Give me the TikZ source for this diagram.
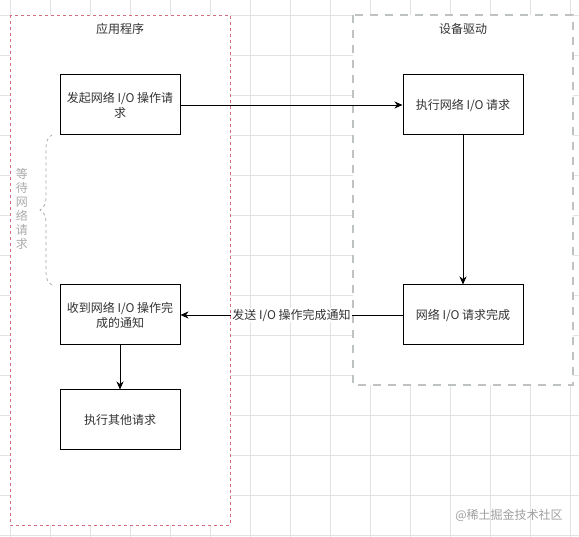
\documentclass[tikz,border=0pt]{standalone}
\usepackage{fontspec}
\setmainfont{Noto Sans CJK SC}
\usetikzlibrary{arrows.meta,decorations.pathreplacing}
\definecolor{framered}{RGB}{210,110,125}
\definecolor{framegray}{RGB}{190,194,192}
\definecolor{gridgray}{RGB}{226,226,226}
\definecolor{textgray}{RGB}{51,51,51}
\begin{document}
\begin{tikzpicture}[x=1pt, y=-1pt,
  every node/.style={font=\fontsize{12}{15}\selectfont, text=textgray},
  stepbox/.style={draw, line width=1pt, fill=white, minimum width=120pt, minimum height=60pt, align=center, inner sep=2pt},
  arrow/.style={-{Stealth[length=8pt, width=7pt, inset=2.5pt]}, line width=0.9pt},
  gridline/.style={gridgray, line width=0.6pt}
]
% page and grid
\useasboundingbox (0,0) rectangle (579,537);
\fill[white] (0,0) rectangle (579,537);
\foreach \x in {10,50,...,570} \draw[gridline] (\x,0) -- (\x,537);
\foreach \y in {15,55,...,535} \draw[gridline] (0,\y) -- (579,\y);
% containers
\draw[framered, fill=white, line width=0.7pt, dash pattern=on 3pt off 3pt] (10,15) rectangle (230,525);
\draw[framegray, fill=white, line width=1.1pt, dash pattern=on 8pt off 7pt] (353,15) rectangle (573,385);
\node (app) at (120,29) {应用程序};
\node (drv) at (463,29) {设备驱动};
% steps
\node[stepbox] (send)  at (120,105) {发起网络 I/O 操作请\\求};
\node[stepbox] (exec)  at (463,105) {执行网络 I/O 请求};
\node[stepbox] (done)  at (463,315) {网络 I/O 请求完成};
\node[stepbox] (recv)  at (120,315) {收到网络 I/O 操作完\\成的通知};
\node[stepbox] (other) at (120,420) {执行其他请求};
\draw[arrow] (send) -- (exec);
\draw[arrow] (exec) -- (done);
\draw[arrow] (done) -- node[fill=white, inner sep=1pt] {发送 I/O 操作完成通知} (recv);
\draw[arrow] (recv) -- (other);
% waiting brace
\coordinate (wtop) at (52,135);
\coordinate (wbot) at (52,285);
\draw[gray!70, dashed, line width=0.7pt, decorate, decoration={brace, amplitude=12pt, aspect=0.5}] (wbot) -- (wtop);
\node[text=gray!65, align=center, font=\fontsize{12}{14}\selectfont] (wait) at (22,209) {等\\待\\网\\络\\请\\求};
% watermark
\node[text=gray!75] (mark) at (509,515) {@稀土掘金技术社区};
\end{tikzpicture}
\end{document}
